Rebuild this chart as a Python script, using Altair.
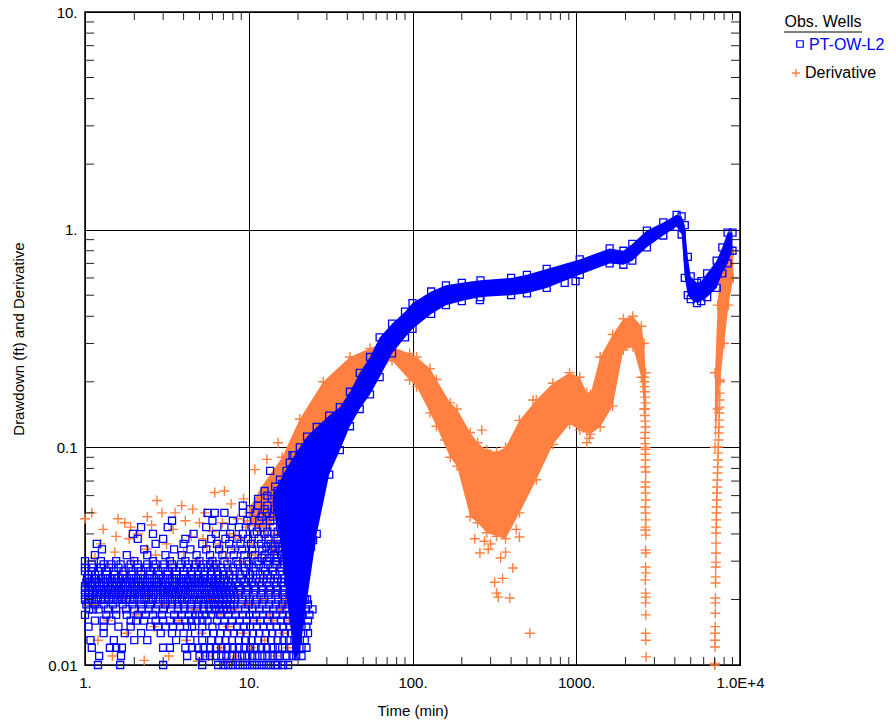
import altair as alt
import pandas as pd

BLUE = "#0000ff"
ORANGE = "#ff8040"
FONT = "Liberation Sans"
W, H = 655, 653

# ---------------- PT-OW-L2 drawdown ----------------
# early record, logged at 0.001 ft resolution: (drawdown ft, [times min])
dd_early_rows = [
    (0.010, [1.2, 1.64, 3.0, 5.2, 6.5, 7.0, 7.5, 8.0, 8.6, 9.2, 9.8, 10.5, 11.2, 12.0, 12.8, 13.6, 14.5, 15.0, 16.2, 17.4]),
    (0.011, [1.22, 1.66, 4.2, 5.0, 5.4, 5.8, 6.3, 6.8, 7.3, 7.9, 8.5, 9.1, 9.8, 10.5, 11.3, 12.1, 13.0, 14.0, 15.0, 15.5, 17.0, 18.5, 19.5, 21.0]),
    (0.012, [1.1, 1.42, 1.55, 1.68, 3.0, 3.3, 4.1, 4.5, 4.9, 5.3, 5.8, 6.3, 6.8, 7.4, 8.0, 8.7, 9.4, 10.2, 11.0, 11.9, 12.9, 14.0, 15.1, 16.0, 18.0, 19.5, 21.0, 22.5]),
    (0.013, [1.08, 1.5, 2.0, 2.4, 3.6, 4.4, 5.2, 5.9, 6.6, 7.2, 7.9, 8.7, 9.5, 10.4, 11.4, 12.5, 13.7, 15.0, 16.3, 17.6, 19.0, 20.5, 22.0]),
    (0.014, [1.3, 1.75, 2.2, 2.9, 3.4, 4.0, 4.7, 5.5, 6.1, 6.7, 7.4, 8.1, 8.9, 9.7, 10.6, 11.6, 12.7, 13.9, 15.2, 16.6, 18.1, 19.8, 21.5, 23.0]),
    (0.015, [1.05, 1.6, 2.5, 3.1, 3.8, 4.5, 5.2, 6.0, 6.9, 7.7, 8.5, 9.3, 10.2, 11.2, 12.3, 13.5, 14.8, 16.2, 17.7, 19.3, 21.0, 22.5]),
    (0.016, [1.15, 1.45, 1.9, 2.3, 2.7, 3.3, 4.1, 4.8, 5.6, 6.4, 7.1, 7.9, 8.8, 9.7, 10.7, 11.8, 13.0, 14.3, 15.7, 17.2, 18.8, 20.6, 23.0]),
    (0.017, [1.0, 1.35, 1.8, 2.1, 2.6, 3.5, 4.3, 5.0, 5.9, 6.7, 7.5, 8.3, 9.2, 10.1, 11.1, 12.2, 13.4, 14.7, 16.1, 17.6, 19.3, 21.2, 23.5]),
    (0.018, [1.12, 1.55, 2.0, 2.45, 3.0, 3.7, 4.4, 5.3, 6.2, 7.0, 7.8, 8.6, 9.5, 10.5, 11.6, 12.8, 14.1, 15.5, 17.0, 18.6, 20.4, 22.4, 24.5]),
    (0.019, [1.02, 1.3, 1.7, 2.2, 2.8, 3.4, 4.0, 4.9, 5.7, 6.5, 7.3, 8.1, 9.0, 10.0, 11.0, 12.1, 13.3, 14.6, 16.0, 17.5, 19.2, 21.0, 23.0]),
    (0.020, [1.0, 1.1, 1.25, 1.4, 1.58, 1.78, 2.0, 2.3, 2.6, 3.0, 3.4, 3.9, 4.5, 5.1, 5.8, 6.6, 7.4, 8.2, 9.1, 10.1, 11.2, 12.4, 13.7, 15.1, 16.6, 18.2, 20.0, 22.0]),
    (0.021, [1.05, 1.18, 1.33, 1.5, 1.7, 1.9, 2.15, 2.45, 2.8, 3.2, 3.6, 4.1, 4.7, 5.4, 6.1, 6.9, 7.7, 8.6, 9.6, 10.7, 11.9, 13.2, 14.6, 16.1, 17.8, 19.6]),
    (0.022, [1.0, 1.12, 1.27, 1.44, 1.62, 1.83, 2.07, 2.35, 2.7, 3.05, 3.45, 3.9, 4.4, 5.0, 5.7, 6.4, 7.2, 8.0, 8.9, 9.9, 11.0, 12.2, 13.5, 15.0, 16.5, 18.2]),
    (0.023, [1.08, 1.22, 1.38, 1.56, 1.76, 2.0, 2.25, 2.55, 2.9, 3.3, 3.75, 4.25, 4.8, 5.5, 6.2, 7.0, 7.8, 8.7, 9.7, 10.8, 12.0, 13.3, 14.8, 16.3, 18.0]),
    (0.024, [1.02, 1.15, 1.3, 1.47, 1.66, 1.88, 2.12, 2.4, 2.75, 3.1, 3.55, 4.0, 4.6, 5.2, 5.9, 6.7, 7.5, 8.4, 9.4, 10.4, 11.6, 12.9, 14.3, 15.8, 17.4]),
    (0.025, [1.1, 1.25, 1.42, 1.6, 1.8, 2.05, 2.32, 2.65, 3.0, 3.4, 3.85, 4.35, 4.95, 5.6, 6.3, 7.1, 8.0, 9.0, 10.0, 11.1, 12.3, 13.6, 15.0, 16.5]),
    (0.026, [1.05, 1.35, 1.7, 2.2, 2.85, 3.6, 4.5, 5.3, 6.5, 7.6, 8.8, 10.2, 11.7, 13.0, 14.5, 16.0]),
    (0.027, [1.0, 1.2, 1.5, 1.95, 2.5, 3.2, 4.0, 4.9, 5.9, 7.0, 8.2, 9.5, 11.0, 12.6, 14.0, 15.5]),
    (0.028, [1.12, 1.4, 1.85, 2.35, 3.0, 3.8, 4.7, 5.6, 6.8, 8.0, 9.3, 10.7, 12.3, 14.0, 15.8]),
    (0.029, [1.3, 1.65, 2.1, 2.7, 3.4, 4.3, 5.3, 6.3, 7.4, 8.6, 10.0, 11.5, 13.1, 14.8, 16.5]),
    (0.030, [1.0, 1.25, 1.55, 2.0, 2.6, 3.3, 4.1, 5.0, 6.0, 7.1, 8.4, 9.8, 11.3, 12.9, 14.6, 16.2]),
    (0.032, [1.15, 1.8, 2.4, 3.1, 3.9, 4.8, 5.8, 6.9, 8.1, 9.4, 10.9, 12.5, 14.3, 16.0, 17.8]),
    (0.034, [1.27, 2.3, 3.5, 4.4, 5.5, 6.6, 7.8, 9.1, 10.5, 12.1, 13.8, 15.5, 17.4]),
    (0.036, [1.18, 2.7, 4.0, 5.2, 6.4, 7.6, 8.9, 10.3, 11.9, 13.6, 15.4, 17.2, 19.0]),
    (0.038, [2.1, 3.0, 4.1, 5.9, 7.2, 8.5, 9.9, 11.5, 13.2, 15.0, 16.8, 18.6]),
    (0.040, [1.96, 2.6, 4.6, 6.3, 7.7, 9.2, 10.8, 12.5, 14.3, 16.1, 18.0, 20.0]),
    (0.043, [2.2, 3.2, 5.5, 7.1, 8.7, 10.4, 12.2, 14.1, 16.0, 18.0, 20.0]),
    (0.046, [3.4, 6.0, 8.0, 9.8, 11.6, 13.5, 15.5, 17.5, 19.5, 21.5]),
    (0.050, [5.6, 6.2, 7.1, 9.2, 11.0, 12.9, 14.9, 16.9, 19.0, 21.0]),
    (0.054, [9.2, 11.4, 13.0, 15.0, 17.0, 19.0, 21.2]),
    (0.058, [11.4, 13.8, 16.0, 18.0, 20.0, 22.0]),
    (0.063, [12.5, 15.0, 17.5, 19.5, 21.5, 23.5]),
    (0.068, [16.0, 18.5, 20.5, 22.5, 24.0]),
    (0.074, [17.5, 20.0, 22.0, 24.0, 26.0]),
    # readings logged between the rows above (same levels, second pass of the logger)
    (0.015, [1.3, 1.9, 2.8, 3.45, 4.2]),
    (0.016, [1.3, 2.05, 3.0, 3.7, 4.45, 5.2]),
    (0.017, [1.55, 2.35, 2.95, 3.9, 4.7, 5.45]),
    (0.018, [1.06, 1.21, 1.38, 1.78, 2.22, 2.7, 3.35, 4.05, 4.85, 5.75, 6.6, 7.4]),
    (0.019, [1.15, 1.48, 1.95, 2.5, 3.1, 3.7, 4.45, 5.3, 6.1, 6.9, 7.7]),
    (0.020, [1.05, 1.17, 1.32, 1.49, 1.68, 1.89, 2.15, 2.45, 2.8, 3.2, 3.65, 4.2, 4.8, 5.45, 6.2, 7.0, 7.8]),
    (0.021, [1.0, 1.11, 1.25, 1.41, 1.6, 1.8, 2.02, 2.3, 2.62, 3.0, 3.4, 3.85, 4.4, 5.05, 5.75, 6.5, 7.3, 8.1]),
    (0.022, [1.06, 1.19, 1.35, 1.53, 1.72, 1.95, 2.2, 2.52, 2.88, 3.25, 3.68, 4.15, 4.7, 5.35, 6.05, 6.8, 7.6]),
    (0.023, [1.0, 1.15, 1.3, 1.47, 1.66, 1.88, 2.12, 2.4, 2.72, 3.1, 3.5, 4.0, 4.5, 5.15, 5.85, 6.6, 7.4]),
    (0.024, [1.08, 1.22, 1.38, 1.56, 1.77, 2.0, 2.26, 2.57, 2.92, 3.3, 3.77, 4.28, 4.9, 5.55, 6.3, 7.1]),
    (0.025, [1.03, 1.17, 1.33, 1.51, 1.7, 1.92, 2.18, 2.48, 2.82, 3.2, 3.62, 4.12, 4.65, 5.28, 5.95, 6.7]),
    (0.026, [1.15, 1.52, 1.92, 2.48, 3.2, 4.0, 4.9, 5.9, 7.0]),
    (0.027, [1.1, 1.35, 1.72, 2.2, 2.8, 3.6, 4.45, 5.4, 6.4]),
    (0.028, [1.0, 1.25, 1.6, 2.1, 2.65, 3.4, 4.2, 5.1, 6.1]),
    (0.029, [1.1, 1.45, 1.9, 2.4, 3.05, 3.85, 4.75, 5.8]),
    (0.031, [12.0, 13.4, 14.9, 16.5, 18.2, 20.0, 22.0]),
    (0.035, [12.8, 14.4, 16.1, 18.0, 20.0, 22.0, 24.0]),
    (0.041, [11.2, 13.0, 15.0, 17.0, 19.0, 21.0, 23.0]),
    (0.048, [12.0, 14.0, 16.0, 18.0, 20.0, 22.0, 24.0]),
    (0.052, [10.2, 12.5, 14.5, 16.5, 18.5, 20.5, 22.5]),
    (0.060, [13.0, 15.0, 17.0, 19.0, 21.0, 23.0]),
    (0.066, [14.5, 16.5, 18.5, 20.5, 22.5]),
    (0.071, [15.5, 17.5, 19.5, 21.5]),
    (0.078, [13.5, 17.0, 19.0, 21.0, 23.0]),
    (0.085, [17.8, 20.0, 22.0, 24.5]),
    (0.092, [18.5, 21.0, 23.5]),
]

# continuous record: time (min) with lower / upper edge of the reading cloud (ft)
dd_band_t = [14, 15.5, 17, 19, 20.5, 22.7, 26, 31, 36, 41.5, 47.6, 55, 63, 75, 90, 100, 130, 160, 200,
             260, 400, 500, 660, 1050, 1600, 1940, 2200, 2700, 3400, 4100, 4400, 4600, 4800, 5000,
             5460, 5800, 6300, 7200, 7800, 8400, 9000]
dd_band_lo = [0.055, 0.038, 0.021, 0.0105, 0.0115, 0.02, 0.04, 0.075, 0.097, 0.125, 0.15, 0.175, 0.21,
              0.27, 0.32, 0.35, 0.41, 0.45, 0.47, 0.49, 0.50, 0.51, 0.54, 0.62, 0.70, 0.69, 0.72,
              0.83, 0.94, 1.03, 0.95, 0.60, 0.50, 0.48, 0.46, 0.47, 0.49, 0.54, 0.63, 0.70, 0.80]
dd_band_hi = [0.06, 0.07, 0.08, 0.092, 0.10, 0.112, 0.124, 0.14, 0.153, 0.18, 0.22, 0.26, 0.32, 0.37,
              0.42, 0.46, 0.52, 0.555, 0.57, 0.585, 0.60, 0.62, 0.66, 0.73, 0.82, 0.80, 0.86, 0.99,
              1.08, 1.17, 1.15, 1.05, 0.75, 0.61, 0.57, 0.58, 0.63, 0.72, 0.83, 0.97, 0.97]

# stray readings
dd_stray_t = [24.7, 258, 850, 990]
dd_stray_s = [0.0375, 0.475, 0.57, 0.58]

# ---------------- Derivative ----------------
der_early = [
    (1.0, 0.047), (1.05, 0.025), (1.1, 0.05), (1.12, 0.019), (1.15, 0.031), (1.2, 0.013), (1.25, 0.036),
    (1.29, 0.042), (1.33, 0.022), (1.38, 0.016), (1.42, 0.028), (1.47, 0.011), (1.52, 0.033), (1.59, 0.047),
    (1.63, 0.02), (1.68, 0.026), (1.75, 0.045), (1.8, 0.014), (1.86, 0.038), (1.92, 0.023), (1.97, 0.03),
    (2.05, 0.017), (2.1, 0.04), (2.2, 0.027), (2.3, 0.0105), (2.38, 0.034), (2.45, 0.021), (2.55, 0.044),
    (2.65, 0.015), (2.75, 0.057), (2.85, 0.025), (2.95, 0.05), (3.05, 0.019), (3.15, 0.036), (3.25, 0.011),
    (3.35, 0.029), (3.45, 0.042), (3.55, 0.05), (3.65, 0.023), (3.75, 0.016), (3.9, 0.054), (4.0, 0.033),
    (4.15, 0.013), (4.3, 0.026), (4.45, 0.039), (4.55, 0.052), (4.7, 0.018), (4.85, 0.03), (4.9, 0.0104),
    (5.0, 0.045), (5.15, 0.014), (5.3, 0.024), (5.4, 0.05), (5.55, 0.035), (5.7, 0.011), (5.85, 0.02),
    (6.0, 0.041), (6.2, 0.062), (6.3, 0.028), (6.45, 0.017), (6.6, 0.036), (6.75, 0.012), (6.9, 0.045),
    (7.1, 0.063), (7.2, 0.022), (7.35, 0.031), (7.4, 0.0103), (7.5, 0.015), (7.65, 0.04), (7.8, 0.055),
    (7.95, 0.026), (8.1, 0.018), (8.25, 0.034), (8.4, 0.011), (8.55, 0.047), (8.7, 0.021), (8.85, 0.03),
    (9.0, 0.038), (9.15, 0.014), (9.3, 0.058), (9.45, 0.025), (9.6, 0.043), (9.75, 0.019), (9.9, 0.033),
    (10.1, 0.05), (10.3, 0.012), (10.5, 0.028), (10.7, 0.036), (10.9, 0.079), (11.1, 0.016), (11.3, 0.045),
    (11.5, 0.024), (11.7, 0.06), (11.9, 0.031), (12.1, 0.02), (12.3, 0.052), (12.5, 0.013), (12.7, 0.039),
    (12.9, 0.088), (13.0, 0.022), (13.1, 0.027), (13.3, 0.066), (13.5, 0.017), (13.6, 0.03), (13.7, 0.047),
    (13.9, 0.034), (14.0, 0.016), (14.1, 0.072), (14.3, 0.022), (14.4, 0.037), (14.5, 0.055), (14.7, 0.011),
    (14.8, 0.026), (14.9, 0.04), (15.1, 0.105), (15.2, 0.045), (15.3, 0.029), (15.5, 0.078), (15.6, 0.021),
    (15.7, 0.018), (15.9, 0.062), (16.0, 0.04), (16.1, 0.035), (16.3, 0.014), (16.4, 0.028), (16.5, 0.048),
    (16.8, 0.025), (16.9, 0.05), (17.1, 0.02), (17.3, 0.036), (17.4, 0.012), (17.7, 0.016), (17.8, 0.044),
    (18.2, 0.03), (18.6, 0.052), (19.0, 0.04), (19.5, 0.058), (20.5, 0.062),
    (6.1, 0.024), (6.8, 0.033), (7.6, 0.028), (8.3, 0.039), (9.1, 0.023), (9.8, 0.046), (10.4, 0.019),
    (11.0, 0.032), (11.8, 0.041), (12.6, 0.026), (13.2, 0.044), (14.2, 0.032), (15.0, 0.024), (15.8, 0.037),
    (16.6, 0.019), (17.5, 0.027), (18.0, 0.022), (18.8, 0.034), (2.7, 0.032), (3.3, 0.026), (4.1, 0.046),
    (4.65, 0.024), (5.25, 0.038), (5.95, 0.03), (1.55, 0.039), (1.9, 0.043), (2.4, 0.048),
]

# continuous record: time (min) with lower / upper edge of the derivative cloud
der_band_t = [10, 12, 16, 20.5, 28.5, 41.5, 55, 66, 75, 96, 106, 128, 140, 170, 187, 225, 250, 284, 326,
              370, 450, 570, 720, 910, 1050, 1160, 1220, 1400, 1670, 1940, 2215, 2500, 2600, 2650]
der_band_lo = [0.044, 0.042, 0.05, 0.065, 0.105, 0.16, 0.21, 0.244, 0.25, 0.204, 0.19, 0.144, 0.125, 0.09,
               0.082, 0.048, 0.045, 0.0405, 0.039, 0.038, 0.05, 0.071, 0.103, 0.128, 0.12, 0.118,
               0.115, 0.124, 0.155, 0.28, 0.29, 0.21, 0.15, 0.10]
der_band_hi = [0.052, 0.066, 0.09, 0.135, 0.20, 0.26, 0.285, 0.30, 0.29, 0.27, 0.26, 0.23, 0.205, 0.16,
               0.15, 0.117, 0.105, 0.097, 0.095, 0.10, 0.133, 0.165, 0.197, 0.22, 0.21, 0.178,
               0.175, 0.26, 0.33, 0.39, 0.40, 0.36, 0.30, 0.22]

# scattered derivative values around the trough
der_trough = [
    (258, 0.0327), (240, 0.038), (318, 0.024), (326, 0.0214), (334, 0.0205), (355, 0.025), (393, 0.0203),
    (410, 0.0279), (450, 0.0387), (521, 0.014), (290, 0.034), (300, 0.036), (345, 0.031), (370, 0.033),
    (275, 0.037), (265, 0.12), (158, 0.108), (545, 0.165), (708, 0.18), (470, 0.06), (490, 0.07),
    (520, 0.085), (430, 0.042), (1160, 0.105), (1200, 0.11),
]

# derivative collapse after the first recovery (t about 2600-2700 min)
der_drop1_t = [2600, 2610, 2620, 2630, 2640, 2650, 2640, 2630, 2640, 2650, 2640, 2630, 2640, 2650, 2640,
               2650, 2640, 2660, 2650, 2640, 2650, 2660, 2640, 2650, 2660, 2650, 2640, 2660, 2650, 2660,
               2650, 2660, 2640, 2650, 2660, 2650, 2660, 2650, 2660, 2670]
der_drop1_s = [0.21, 0.2, 0.19, 0.18, 0.17, 0.16, 0.15, 0.14, 0.132, 0.124, 0.117, 0.11, 0.104, 0.098,
               0.093, 0.0874, 0.0812, 0.077, 0.0693, 0.0657, 0.0617, 0.0573, 0.0532, 0.0499, 0.0464,
               0.043, 0.0417, 0.0395, 0.0337, 0.0327, 0.0282, 0.0265, 0.0246, 0.0214, 0.0205, 0.0193,
               0.017, 0.014, 0.013, 0.0109]

# derivative rise near the end of the test (t about 7000-7600 min)
der_drop2_t = [7000, 7035, 7035, 7040, 7050, 7050, 7060, 7070, 7080, 7090, 7100, 7110, 7120, 7130, 7140,
               7150, 7160, 7170, 7180, 7200, 7210, 7230, 7250, 7270, 7290, 7310, 7330, 7350, 7370,
               7390, 7410, 7430, 7450, 7470, 7490, 7510, 7530, 7550]
der_drop2_s = [0.0100, 0.0102, 0.0121, 0.013, 0.014, 0.015, 0.0173, 0.0193, 0.0203, 0.0238, 0.0254,
               0.0282, 0.0297, 0.0327, 0.0363, 0.0404, 0.043, 0.0464, 0.0499, 0.0532, 0.0573, 0.0617,
               0.0657, 0.0708, 0.0762, 0.0812, 0.0874, 0.0941, 0.1003, 0.108, 0.1163, 0.124, 0.1334,
               0.1438, 0.153, 0.165, 0.1775, 0.204]

der_end_t = [7035, 7300, 7550, 8000, 8500, 9100]
der_end_lo = [0.10, 0.15, 0.20, 0.30, 0.45, 0.60]
der_end_hi = [0.22, 0.45, 0.67, 0.72, 0.80, 0.80]

# axis ticks
x_major = [1, 10, 100, 1000, 10000]
y_major = [0.01, 0.1, 1, 10]
x_minor = [m * 10 ** e for e in range(4) for m in range(2, 10)]
y_minor = [m * 10.0 ** e for e in (-2, -1, 0) for m in range(2, 10)]

# ------------------------------------------------------------------
CROSS = "M-1,0L1,0M0,-1L0,1"
xs = alt.Scale(type="log", domain=[1, 10000], nice=False)
ys = alt.Scale(type="log", domain=[0.01, 10], nice=False)

xaxis = alt.Axis(
    values=x_major, title="Time (min)", grid=True, gridColor="black", gridWidth=1,
    ticks=False, tickSize=0, domain=False, labelFlush=False, labelPadding=10, labelOverlap=False,
    labelExpr="datum.value < 5 ? '1.' : datum.value < 50 ? '10.' : datum.value < 500 ? '100.' : datum.value < 5000 ? '1000.' : '1.0E+4'",
    titleY=45, titleBaseline="middle",
)
yaxis = alt.Axis(
    values=y_major, title="Drawdown (ft) and Derivative", grid=True, gridColor="black", gridWidth=1,
    ticks=False, tickSize=0, domain=False, labelFlush=False, labelPadding=8, labelOverlap=False,
    labelExpr="datum.value < 0.05 ? '0.01' : datum.value < 0.5 ? '0.1' : datum.value < 5 ? '1.' : '10.'",
    titleX=-67, titleY=H / 2, titleAngle=-90, titleBaseline="middle", titleAlign="center",
)


def X(f):
    return alt.X(f, type="quantitative", scale=xs, axis=xaxis)


def Y(f):
    return alt.Y(f, type="quantitative", scale=ys, axis=yaxis)


# tables
dd_pts = pd.DataFrame(
    [(t, s) for s, ts in dd_early_rows for t in ts]
    + list(zip(dd_stray_t, dd_stray_s))
    + list(zip(dd_band_t[5:], dd_band_lo[5:]))
    + list(zip(dd_band_t[3:], dd_band_hi[3:])),
    columns=["t", "s"],
)
dd_band = pd.DataFrame({"t": dd_band_t, "lo": dd_band_lo, "hi": dd_band_hi})

der_pts = pd.DataFrame(
    der_early + der_trough
    + list(zip(der_drop1_t, der_drop1_s))
    + list(zip(der_drop2_t, der_drop2_s))
    + list(zip(der_band_t[2:], der_band_lo[2:]))
    + list(zip(der_band_t[2:], der_band_hi[2:]))
    + list(zip(der_end_t, der_end_lo))
    + list(zip(der_end_t, der_end_hi)),
    columns=["t", "s"],
)
der_band = pd.DataFrame({"t": der_band_t, "lo": der_band_lo, "hi": der_band_hi})
der_end = pd.DataFrame({"t": der_end_t, "lo": der_end_lo, "hi": der_end_hi})

der_band_layer = alt.Chart(der_band).mark_area(color=ORANGE, opacity=1).encode(x=X("t"), y=Y("lo"), y2=alt.Y2("hi"))
der_end_layer = alt.Chart(der_end).mark_area(color=ORANGE, opacity=1).encode(x=X("t"), y=Y("lo"), y2=alt.Y2("hi"))
der_pt_layer = alt.Chart(der_pts).mark_point(
    shape=CROSS, filled=False, size=100, strokeWidth=1.4, color=ORANGE, opacity=1
).encode(x=X("t"), y=Y("s"))

dd_band_layer = alt.Chart(dd_band).mark_area(color=BLUE, opacity=1).encode(x=X("t"), y=Y("lo"), y2=alt.Y2("hi"))
dd_pt_layer = alt.Chart(dd_pts).mark_point(
    shape="square", filled=False, size=49, strokeWidth=1.3, color=BLUE, opacity=1
).encode(x=X("t"), y=Y("s"))

# inward minor ticks on all four sides
mx = pd.DataFrame({"v": x_minor})
my = pd.DataFrame({"v": y_minor})
tick_style = dict(color="#222222", strokeWidth=1)
ticks_bottom = alt.Chart(mx).mark_rule(**tick_style).encode(x=X("v"), y=alt.value(H), y2=alt.value(H - 8))
ticks_top = alt.Chart(mx).mark_rule(**tick_style).encode(x=X("v"), y=alt.value(0), y2=alt.value(8))
ticks_left = alt.Chart(my).mark_rule(**tick_style).encode(y=Y("v"), x=alt.value(0), x2=alt.value(9))
ticks_right = alt.Chart(my).mark_rule(**tick_style).encode(y=Y("v"), x=alt.value(W), x2=alt.value(W - 9))

# legend
leg = pd.DataFrame({"k": [0]})
leg_title = alt.Chart(leg).mark_text(
    text="Obs. Wells", font=FONT, fontSize=16, align="center", baseline="middle", color="black"
).encode(x=alt.value(738), y=alt.value(10))
leg_line = alt.Chart(leg).mark_rule(color="black", strokeWidth=1).encode(
    x=alt.value(699), x2=alt.value(777), y=alt.value(20)
)
leg_sq = alt.Chart(leg).mark_point(
    shape="square", filled=False, size=42, strokeWidth=1.2, color=BLUE, opacity=1
).encode(x=alt.value(715), y=alt.value(32))
leg_dd = alt.Chart(leg).mark_text(
    text="PT-OW-L2", font=FONT, fontSize=16, align="left", baseline="middle", color=BLUE
).encode(x=alt.value(724), y=alt.value(33))
leg_cr = alt.Chart(leg).mark_point(
    shape=CROSS, filled=False, size=64, strokeWidth=1.4, color=ORANGE, opacity=1
).encode(x=alt.value(711), y=alt.value(61))
leg_der = alt.Chart(leg).mark_text(
    text="Derivative", font=FONT, fontSize=16, align="left", baseline="middle", color="black"
).encode(x=alt.value(720), y=alt.value(61))

chart = alt.layer(
    der_band_layer, der_end_layer, der_pt_layer, dd_band_layer, dd_pt_layer,
    ticks_bottom, ticks_top, ticks_left, ticks_right,
    leg_title, leg_line, leg_sq, leg_dd, leg_cr, leg_der,
).properties(
    width=W, height=H,
    padding={"left": 85, "top": 12, "right": 156, "bottom": 60},
    autosize=alt.AutoSizeParams(type="none"),
    background="white",
).configure_axis(
    labelFont=FONT, labelFontSize=15, labelColor="black",
    titleFont=FONT, titleFontSize=15, titleFontWeight="normal", titleColor="black",
).configure_view(stroke="black", strokeWidth=1.5)

chart.save("out.html", embed_options={"renderer": "svg", "actions": False})
